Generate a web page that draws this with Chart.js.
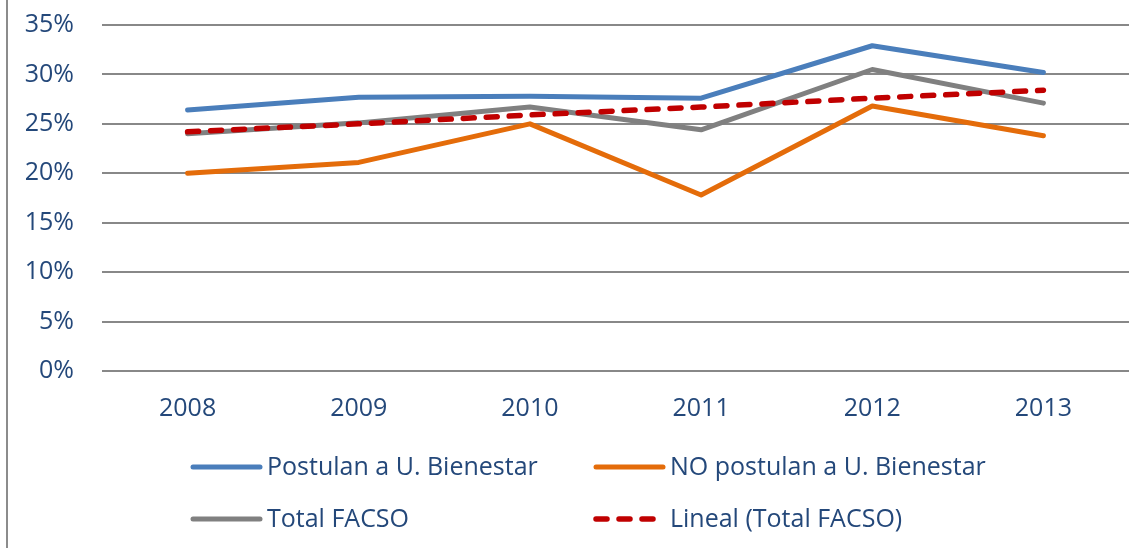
<!DOCTYPE html>
<html>
<head>
<meta charset="utf-8">
<script src="https://cdn.jsdelivr.net/npm/chart.js@4/dist/chart.umd.min.js"></script>
<style>
  body { margin: 0; background: #fff; }
  #wrap { width: 1145px; height: 548px; }
</style>
</head>
<body>
<div id="wrap"><canvas id="grafico" width="1145" height="548"></canvas></div>
<script>
const anos = ['2008', '2009', '2010', '2011', '2012', '2013']
const postulan = [26.4, 27.7, 27.8, 27.6, 32.9, 30.2]
const noPostulan = [20.0, 21.1, 25.0, 17.8, 26.8, 23.8]
const totalFacso = [24.0, 25.1, 26.7, 24.4, 30.5, 27.1]
const linealFacso = [24.2, 25.0, 25.9, 26.7, 27.6, 28.4]
const ticksY = [0, 5, 10, 15, 20, 25, 30, 35]

const corTexto = '#24487a'
const fonte = '"Open Sans", "Noto Sans", sans-serif'
const tracejado = [11, 12]

// legenda 2x2 como no original
const legendaPlugin = {
  id: 'legenda2x2',
  beforeDraw(chart) {
    const ctx = chart.ctx
    ctx.save()
    ctx.strokeStyle = '#8c8c8c'
    ctx.lineWidth = 2
    ctx.beginPath()
    ctx.moveTo(7, 0)
    ctx.lineTo(7, chart.height)
    ctx.stroke()
    ctx.restore()
  },
  afterDraw(chart) {
    const ctx = chart.ctx
    const colunas = [190, 593]
    const linhas = [467, 519]
    ctx.save()
    chart.data.datasets.forEach((ds, i) => {
      const x = colunas[i % 2]
      const y = linhas[Math.floor(i / 2)]
      ctx.strokeStyle = ds.borderColor
      ctx.lineWidth = ds.borderDash ? 5.5 : 5
      ctx.lineCap = 'round'
      ctx.setLineDash(ds.borderDash ? tracejado : [])
      ctx.beginPath()
      ctx.moveTo(x + 3, y)
      ctx.lineTo(x + 70, y)
      ctx.stroke()
      ctx.setLineDash([])
      ctx.fillStyle = corTexto
      ctx.font = '25px ' + fonte
      ctx.textBaseline = 'middle'
      ctx.fillText(ds.label, x + 77, y + 1)
    })
    ctx.restore()
  }
}

const grafico = new Chart(document.getElementById('grafico'), {
  type: 'line',
  data: {
    labels: anos,
    datasets: [
      {
        label: 'Postulan a U. Bienestar',
        data: postulan,
        borderColor: '#4a7ebb',
        order: 1,
      },
      {
        label: 'NO postulan a U. Bienestar',
        data: noPostulan,
        borderColor: '#e46c0a',
        order: 2,
      },
      {
        label: 'Total FACSO',
        data: totalFacso,
        borderColor: '#808080',
        order: 3,
      },
      {
        label: 'Lineal (Total FACSO)',
        data: linealFacso,
        borderColor: '#c00000',
        borderDash: tracejado,
        borderWidth: 5.5,
        borderCapStyle: 'round',
        order: 0,
      },
    ],
  },
  options: {
    responsive: false,
    animation: false,
    layout: { padding: { top: 25, right: 16, bottom: 126, left: 0 } },
    elements: {
      line: { borderWidth: 5, tension: 0, borderJoinStyle: 'round', borderCapStyle: 'round', fill: false },
      point: { radius: 0, hoverRadius: 0 },
    },
    plugins: {
      legend: { display: false },
      tooltip: { enabled: false },
    },
    scales: {
      x: {
        offset: true,
        grid: { display: false, drawTicks: false },
        border: { display: false },
        afterFit: scale => { scale.height = 51 },
        ticks: { color: corTexto, font: { family: fonte, size: 25 }, padding: 23, maxRotation: 0 },
      },
      y: {
        min: 0,
        max: 35,
        afterBuildTicks: scale => { scale.ticks = ticksY.map(v => ({ value: v })) },
        afterFit: scale => { scale.width = 102 },
        grid: { color: '#888888', lineWidth: 2, drawTicks: true, tickLength: 28, tickColor: 'rgba(0,0,0,0)' },
        border: { display: false },
        ticks: {
          color: corTexto,
          font: { family: fonte, size: 25 },
          padding: 0,
          callback: v => v + '%',
        },
      },
    },
  },
  plugins: [legendaPlugin],
})
</script>
</body>
</html>
